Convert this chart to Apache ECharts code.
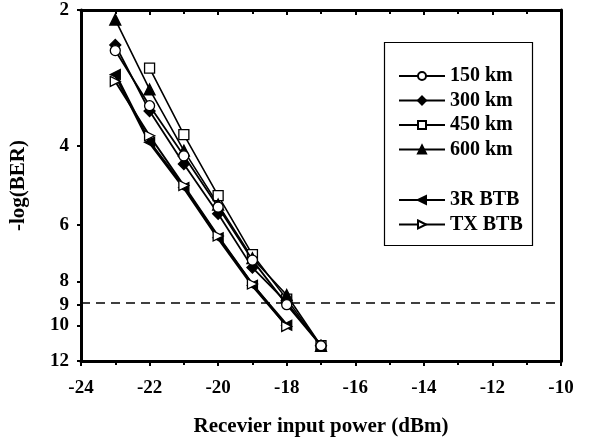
<!DOCTYPE html>
<html lang="en">
<head>
  <meta charset="UTF-8">
  <title>BER vs received power</title>
  <script src="https://cdn.jsdelivr.net/npm/echarts@6/dist/echarts.min.js"></script>
  <style>
    html, body { margin: 0; padding: 0; background: #fff; }
    #main { width: 595px; height: 442px; }
  </style>
</head>
<body>
<div id="main"></div>
<script>
  // received power (dBm)
  var power = [-23, -22, -21, -20, -19, -18, -17];
  // -log(BER)
  var km150 = [2.46, 3.26, 4.21, 5.47, 7.17, 9.0, 11.1];
  var km300 = [2.39, 3.35, 4.39, 5.66, 7.45, 8.9, 11.1];
  var km450 = [null, 2.69, 3.78, 5.16, 6.97, 8.75, 11.1];
  var km600 = [2.10, 3.0, 4.1, 5.4, 7.1, 8.57, 11.1];
  var btb3R = [2.78, 3.93, 4.95, 6.4, 8.15, 10.0];
  var btbTX = [2.88, 3.8, 4.9, 6.34, 8.1, 10.06];
  var yTicks = [2, 4, 6, 8, 9, 10, 12];
  var threshold = 9;

  var font = 'Liberation Serif';
  var lg = function (v) { return Math.log10(v); };   // log(-log(BER)) scale
  var pts = function (arr) {
    return arr.map(function (v, i) { return v == null ? null : [power[i], lg(v)]; });
  };

  var myChart = echarts.init(document.getElementById('main'));

  function line(name, data, symbol, filled, width, size, z) {
    return {
      name: name,
      type: 'line',
      data: pts(data),
      symbol: symbol,
      symbolSize: size || 9,
      showAllSymbol: true,
      connectNulls: false,
      lineStyle: { color: '#000', width: width },
      itemStyle: { color: filled ? '#000' : '#fff', borderColor: '#000', borderWidth: 1.3 },
      z: z || 3
    };
  }

  var series = [
    line('150 km', km150, 'circle', false, 1.8, 10, 5),
    line('300 km', km300, 'diamond', true, 1.8, 11),
    line('450 km', km450, 'rect', false, 1.6, 10),
    line('600 km', km600, 'triangle', true, 1.6, 11),
    line('3R BTB', btb3R, 'path://M0,5L10,0L10,10Z', true, 3, 10),
    line('TX BTB', btbTX, 'path://M0,0L10,5L0,10Z', false, 2, 10, 4)
  ];
  series[0].markLine = {
    silent: true,
    symbol: 'none',
    label: { show: false },
    lineStyle: { color: '#000', type: [9, 6], width: 1.6 },
    data: [{ yAxis: lg(threshold) }]
  };

  var legendText = { fontFamily: font, fontWeight: 'bold', fontSize: 20, color: '#000' };
  var tickText = { fontFamily: font, fontWeight: 'bold', fontSize: 19, color: '#000' };
  var nameText = { fontFamily: font, fontWeight: 'bold', fontSize: 21, color: '#000' };

  var option = {
    animation: false,
    backgroundColor: '#fff',
    grid: { left: 79, right: 34, top: 10, bottom: 79 },
    legend: [
      {
        data: ['150 km', '300 km', '450 km', '600 km'],
        orient: 'vertical', left: 393, top: 61,
        itemWidth: 46, itemHeight: 10, itemGap: 4.5,
        textStyle: legendText
      },
      {
        data: ['3R BTB', 'TX BTB'],
        orient: 'vertical', left: 393, top: 185,
        itemWidth: 46, itemHeight: 10, itemGap: 4.5,
        textStyle: legendText
      }
    ],
    graphic: [{
      type: 'rect', left: 382, top: 40, z: 10,
      shape: { width: 148, height: 203 },
      style: { fill: 'none', stroke: '#000', lineWidth: 1.2 }
    }],
    xAxis: [
      {
        type: 'value', min: -24, max: -10, interval: 2,
        name: 'Recevier input power (dBm)',
        nameLocation: 'middle', nameGap: 55,
        nameTextStyle: nameText,
        axisLine: { onZero: false, lineStyle: { color: '#000', width: 3 } },
        axisTick: { inside: false, length: 5, lineStyle: { color: '#000', width: 2 } },
        minorTick: { show: true, splitNumber: 2, length: 4, lineStyle: { color: '#000', width: 2 } },
        axisLabel: Object.assign({ margin: 18 }, tickText),
        splitLine: { show: false }
      },
      {
        type: 'value', min: -24, max: -10, interval: 2, position: 'top',
        axisLine: { onZero: false, lineStyle: { color: '#000', width: 3 } },
        axisTick: { inside: true, length: 5, lineStyle: { color: '#000', width: 2 } },
        minorTick: { show: true, splitNumber: 2, length: 4, lineStyle: { color: '#000', width: 2 } },
        axisLabel: { show: false },
        splitLine: { show: false }
      }
    ],
    yAxis: [
      {
        type: 'value', inverse: true,
        min: lg(yTicks[0]), max: lg(yTicks[yTicks.length - 1]),
        name: '-log(BER)',
        nameLocation: 'middle', nameGap: 52, nameRotate: 90,
        nameTextStyle: nameText,
        axisLine: { onZero: false, lineStyle: { color: '#000', width: 3 } },
        axisTick: { length: 4, customValues: yTicks.map(lg), lineStyle: { color: '#000', width: 2 } },
        axisLabel: Object.assign({
          customValues: yTicks.map(lg), margin: 12,
          formatter: function (v) { return Math.round(Math.pow(10, v)); }
        }, tickText),
        splitLine: { show: false }
      },
      {
        type: 'value', inverse: true, position: 'right',
        min: lg(yTicks[0]), max: lg(yTicks[yTicks.length - 1]),
        axisLine: { onZero: false, lineStyle: { color: '#000', width: 3 } },
        axisTick: { show: false },
        axisLabel: { show: false },
        splitLine: { show: false }
      }
    ],
    series: series
  };
  myChart.setOption(option);
</script>
</body>
</html>
